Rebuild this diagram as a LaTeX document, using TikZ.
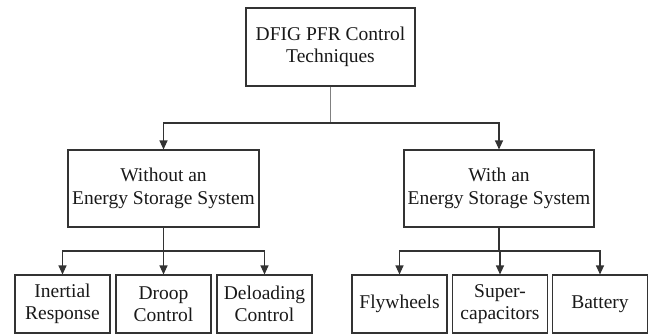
\documentclass[tikz,border=0pt]{standalone}
\usepackage{fontspec}
\setmainfont{Liberation Serif}
\usetikzlibrary{arrows.meta}
\definecolor{linegray}{HTML}{333333}
\definecolor{stemgray}{HTML}{808080}
\begin{document}
\begin{tikzpicture}[x=1pt,y=-1pt,>={Triangle[length=9pt,width=8pt]},
	box/.style={draw=linegray,line width=1.1pt,align=center,inner sep=0pt,
		font=\fontsize{19.5}{22.5}\selectfont,text=black!90},
	leaf/.style={box,minimum width=95pt,minimum height=58pt},
	link/.style={draw=linegray,line width=1.1pt}]
	\useasboundingbox (0,0) rectangle (650,335);
	% root
	\node[box,minimum width=169pt,minimum height=78pt] (root) at (330.5,47)
	{DFIG PFR Control\\Techniques};
	% middle level
	\node[box,minimum width=191pt,minimum height=77pt] (noess) at (163.5,188.5)
	{Without an\\Energy Storage System};
	\node[box,minimum width=190pt,minimum height=77pt] (ess) at (499,188.5)
	{With an\\Energy Storage System};
	% leaves
	\node[leaf] (inertial) at (62.5,304) {Inertial\\Response};
	\node[leaf] (droop) at (163.5,304) {Droop\\Control};
	\node[leaf] (deload) at (264.5,304) {Deloading\\Control};
	\node[leaf] (fly) at (399.5,304) {Flywheels};
	\node[leaf] (supcap) at (500,304) {Super-\\capacitors};
	\node[leaf] (batt) at (600,304) {Battery};
	% branch points
	\coordinate (rootfork) at (330.5,123);
	\coordinate (leftfork) at (163.5,251);
	\coordinate (rightfork) at (499,251);
	\draw[link,draw=stemgray] (root) -- (rootfork);
	\draw[link,->] (rootfork) -| (noess);
	\draw[link,->] (rootfork) -| (ess);
	\draw[link] (noess) -- (leftfork);
	\foreach \n in {inertial,droop,deload}
	\draw[link,->] (leftfork) -| (\n);
	\draw[link] (ess) -- (rightfork);
	\foreach \n in {fly,supcap,batt}
	\draw[link,->] (rightfork) -| (\n);
\end{tikzpicture}
\end{document}
